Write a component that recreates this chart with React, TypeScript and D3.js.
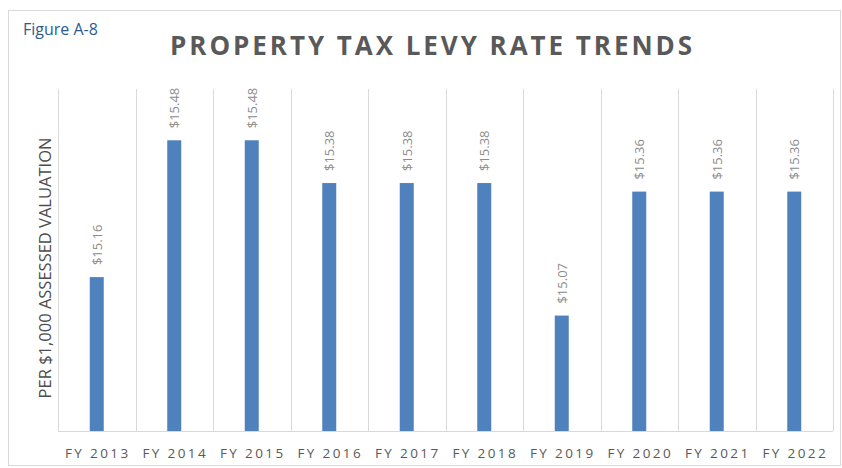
import React, { useRef, useEffect } from 'react';
import * as d3 from 'd3';

const years = ['FY 2013', 'FY 2014', 'FY 2015', 'FY 2016', 'FY 2017', 'FY 2018', 'FY 2019', 'FY 2020', 'FY 2021', 'FY 2022'];
const rates = [15.16, 15.48, 15.48, 15.38, 15.38, 15.38, 15.07, 15.36, 15.36, 15.36];
const yDomain = [14.8, 15.6];

function App() {
  const svgRef = useRef(null);

  useEffect(() => {
    const svg = d3.select(svgRef.current);
    svg.selectAll('*').remove();

    const width = 842;
    const height = 468;
    const left = 58, right = 833, top = 89, bottom = 431;
    const font = '"Open Sans", sans-serif';

    svg.append('rect')
      .attr('width', width).attr('height', height).attr('fill', 'white');

    svg.append('rect')
      .attr('x', 8.5).attr('y', 10.5)
      .attr('width', 832).attr('height', 455)
      .attr('fill', 'none').attr('stroke', '#d9d9d9');

    const x = d3.scaleBand().domain(years).range([left, right]);
    const y = d3.scaleLinear().domain(yDomain).range([bottom, top]);

    // vertical gridlines at category boundaries
    const bounds = years.map(d => x(d)).concat([right]);
    svg.selectAll('line.grid')
      .data(bounds)
      .enter()
      .append('line')
      .attr('x1', d => Math.round(d) + 0.5).attr('x2', d => Math.round(d) + 0.5)
      .attr('y1', top).attr('y2', bottom)
      .attr('stroke', '#d9d9d9').attr('stroke-width', 1);

    const barW = 14;
    svg.selectAll('rect.bar')
      .data(rates)
      .enter()
      .append('rect')
      .attr('x', (d, i) => x(years[i]) + x.bandwidth() / 2 - barW / 2)
      .attr('y', d => y(d))
      .attr('width', barW)
      .attr('height', d => bottom - y(d))
      .attr('fill', '#4f81bd');

    svg.append('line')
      .attr('x1', left).attr('x2', right)
      .attr('y1', bottom + 0.5).attr('y2', bottom + 0.5)
      .attr('stroke', '#d9d9d9');

    svg.selectAll('text.val')
      .data(rates)
      .enter()
      .append('text')
      .attr('transform', (d, i) => `translate(${x(years[i]) + x.bandwidth() / 2 + 5},${y(d) - 12}) rotate(-90)`)
      .attr('text-anchor', 'start')
      .style('font-family', font)
      .style('font-size', '13px')
      .attr('fill', '#8c8c8c')
      .text(d => '$' + d.toFixed(2));

    svg.selectAll('text.cat')
      .data(years)
      .enter()
      .append('text')
      .attr('x', d => x(d) + x.bandwidth() / 2 + 1)
      .attr('y', 458)
      .attr('text-anchor', 'middle')
      .style('font-family', font)
      .style('font-size', '13.5px')
      .style('letter-spacing', '2.4px')
      .attr('fill', '#595959')
      .text(d => d);

    svg.append('text')
      .attr('transform', `translate(51,268) rotate(-90)`)
      .attr('text-anchor', 'middle')
      .style('font-family', font)
      .style('font-size', '16.5px')
      .attr('fill', '#4d4d4d')
      .text('PER $1,000 ASSESSED VALUATION');

    svg.append('text')
      .attr('x', 431).attr('y', 55)
      .attr('text-anchor', 'middle')
      .attr('textLength', 522)
      .attr('lengthAdjust', 'spacing')
      .style('font-family', font)
      .style('font-size', '26px')
      .style('font-weight', 'bold')
      .attr('fill', '#595959')
      .text('PROPERTY TAX LEVY RATE TRENDS');

    svg.append('text')
      .attr('x', 23).attr('y', 35)
      .style('font-family', font)
      .style('font-size', '16px')
      .attr('fill', '#2e5b8f')
      .text('Figure A-8');
  }, []);

  return <svg ref={svgRef} width={842} height={468} style={{ position: 'absolute', left: 0, top: 0 }}></svg>;
}

export default App;
